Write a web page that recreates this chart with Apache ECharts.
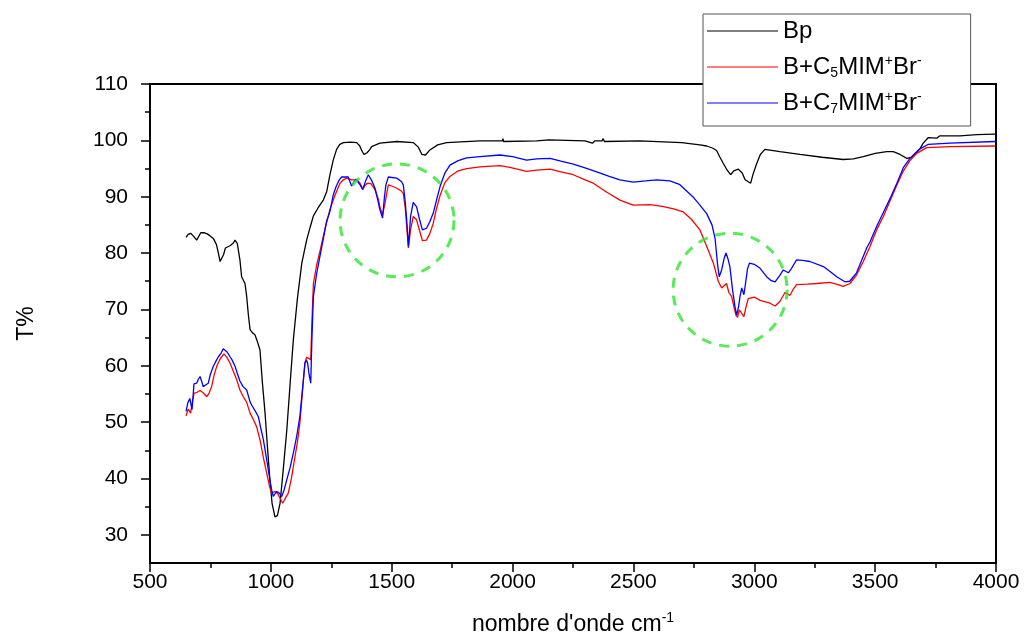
<!DOCTYPE html>
<html>
<head>
<meta charset="utf-8">
<script src="https://cdn.jsdelivr.net/npm/echarts/dist/echarts.min.js"></script>
<style>
  body { margin: 0; background: #fff; }
  #chart { width: 1027px; height: 635px; }
</style>
</head>
<body>
<div id="chart"></div>
<script>
// spectres IR : nombre d'onde (cm-1) / T%
var seriesNames = ['Bp', 'B+C5MIM+Br-', 'B+C7MIM+Br-'];
var yLabels = [30, 40, 50, 60, 70, 80, 90, 100, 110];
var yMinor = [35, 45, 55, 65, 75, 85, 95, 105];
// cercles verts (centre en nombre d'onde / T%)
var circleMarks = [[1522, 85.8], [2900, 73.5]];

var bp = [[649,82.8],[658,83.3],[668,83.5],[680,83.0],[693,82.3],[710,83.6],[725,83.6],[737,83.4],[750,83.0],[762,82.6],
  [775,81.5],[783,80],[790,78.5],[798,78.2],[805,79.8],[812,80.9],[831,81.3],[845,81.8],[852,82.3],[861,81.7],
  [872,78.8],[879,75.8],[893,74.6],[900,72.3],[907,69],[914,66.4],[925,65.8],[934,65.5],[945,64.2],[955,62.8],
  [965,57],[976,51.6],[986,45.5],[996,39.8],[1005,35.6],[1017,33.2],[1027,33.4],[1038,35.6],[1050,41],[1066,48.6],
  [1080,57],[1093,64.6],[1110,72],[1128,78.2],[1148,82.3],[1162,84.5],[1176,86.6],[1195,88],[1217,89.4],[1231,90.9],
  [1245,94],[1258,96.5],[1272,98.4],[1285,99.3],[1300,99.6],[1330,99.7],[1355,99.6],[1368,99],[1375,98.3],[1385,97.5],
  [1393,97.2],[1398,97.8],[1403,97.5],[1410,98.4],[1417,98.9],[1451,99.5],[1521,99.8],[1589,99.6],[1610,98.8],[1625,97.5],
  [1631,97.2],[1640,97.4],[1658,98.3],[1690,99.2],[1727,99.6],[1865,99.9],[1958,99.9],[1960,100.3],[1963,99.8],[2100,99.9],
  [2150,100.1],[2155,100.4],[2158,99.9],[2300,99.9],[2330,99.5],[2340,99.9],[2370,99.9],[2375,100.3],[2380,99.8],[2527,99.9],
  [2700,99.6],[2775,99.2],[2803,99.0],[2829,98.6],[2844,98.2],[2858,97],[2872,95.9],[2888,94.7],[2902,93.9],[2915,94.6],
  [2934,94.9],[2950,94.2],[2962,93],[2985,92.4],[2995,94],[3010,95.9],[3025,97.5],[3044,98.4],[3106,98],[3189,97.5],
  [3280,97],[3368,96.6],[3410,96.7],[3451,97.1],[3500,97.7],[3548,98],[3575,98],[3603,97.5],[3631,96.8],[3650,97],
  [3665,97.5],[3685,98.5],[3699,99.5],[3720,100.5],[3755,100.4],[3768,100.8],[3851,100.8],[3920,101],[3996,101.1]];

var c5 = [[649,51.1],[658,52.3],[668,51.6],[675,53.5],[682,55.1],[695,55.3],[707,55.6],[720,55.2],[735,54.5],[745,55.2],
  [755,56.3],[765,58.3],[776,59.9],[790,61.2],[806,62.1],[818,61.5],[831,60.5],[845,59],[859,57.5],[872,55.7],
  [886,54.5],[900,53.5],[914,51.6],[927,50.5],[941,49.2],[955,46.9],[970,43.5],[983,40.9],[995,38.5],[1003,37.4],
  [1010,37.2],[1017,37.7],[1027,37.4],[1038,36.5],[1049,35.6],[1060,36.5],[1072,37.4],[1085,40],[1100,43.9],[1110,46.5],
  [1120,49.8],[1130,55],[1141,60.5],[1148,61.5],[1155,61.8],[1165,61.1],[1170,68],[1176,74.6],[1190,78],[1203,80.3],
  [1225,84.5],[1245,87.8],[1265,90.2],[1286,92.4],[1300,93],[1314,93.3],[1334,93],[1357,93],[1370,92.3],[1380,91.3],
  [1390,92],[1399,92.4],[1415,92.3],[1431,91.2],[1445,89.5],[1451,88.2],[1462,86.8],[1472,88.8],[1486,92.1],[1500,91.9],
  [1521,91.5],[1540,91],[1548,90.6],[1556,88],[1562,84.7],[1569,80.9],[1578,84.1],[1589,86.5],[1603,85.9],[1615,84],
  [1627,82.2],[1644,82.3],[1658,83.5],[1672,85.3],[1686,88],[1700,90.2],[1720,92.5],[1741,93.6],[1775,94.6],[1810,95],
  [1865,95.3],[1948,95.5],[1989,95.2],[2058,94.5],[2100,94.7],[2155,94.9],[2200,94.4],[2251,93.9],[2300,93],[2334,92.4],
  [2390,90.8],[2444,89.4],[2499,88.5],[2568,88.6],[2620,88.3],[2670,87.8],[2706,87.3],[2740,86],[2775,84.1],[2800,81.5],
  [2831,78.2],[2851,75],[2865,73.8],[2875,74.2],[2885,74.6],[2895,73],[2906,72.3],[2924,69],[2931,68.6],[2938,69.9],
  [2945,69.5],[2957,68.7],[2966,70.5],[2975,71.9],[3000,72.2],[3024,71.6],[3065,71.1],[3086,70.6],[3106,71.4],[3127,73],
  [3134,73.2],[3148,72.5],[3160,73.5],[3175,74.4],[3220,74.5],[3258,74.6],[3313,74.8],[3340,74.5],[3368,74.1],[3396,74.6],
  [3423,76.1],[3451,78.5],[3479,81.2],[3507,84.2],[3534,86.5],[3562,89.3],[3589,92],[3617,94.6],[3644,96.4],[3672,97.7],
  [3713,98.7],[3810,98.9],[3996,99]];

var c7 = [[649,51.9],[657,53.5],[665,54.2],[670,53],[674,52.2],[682,56.8],[693,56.9],[700,57.6],[707,58.1],[714,57.2],
  [720,56.3],[730,56.6],[741,56.9],[750,58.5],[762,59.9],[775,61],[783,61.6],[795,62.3],[803,63],[810,63.1],
  [820,62.4],[831,61.6],[840,61],[852,59.9],[860,58.8],[872,57.3],[885,56.3],[900,55.7],[914,53.6],[921,53],
  [935,52],[948,51],[958,49],[969,46.9],[982,43.5],[996,39.8],[1003,38],[1010,36.8],[1017,37],[1024,37.7],
  [1030,37.5],[1035,37.4],[1045,36.8],[1055,38],[1066,39.8],[1080,42],[1093,44.5],[1107,47.5],[1120,51],[1130,55.5],
  [1141,60.5],[1147,61],[1152,60.5],[1158,58.5],[1165,56.9],[1170,65],[1176,72.3],[1190,76.5],[1203,79.4],[1217,82.5],
  [1230,85.5],[1245,87.5],[1258,90.3],[1270,91.8],[1283,93],[1293,93.5],[1320,93.5],[1327,92.7],[1334,91.9],[1343,92.6],
  [1352,93.1],[1366,92.3],[1380,91.3],[1392,92.8],[1403,93.9],[1418,92.8],[1431,91.5],[1442,89.5],[1451,87.7],[1462,86.2],
  [1470,90],[1476,92.1],[1486,93.5],[1521,93.3],[1540,92.7],[1548,92.1],[1556,89],[1562,85.9],[1569,81.2],[1574,84],
  [1578,86.5],[1589,89],[1603,88.2],[1615,86],[1627,84.1],[1644,84.4],[1658,85.6],[1672,87.1],[1686,89.5],[1700,91.8],
  [1720,94.2],[1741,95.6],[1775,96.4],[1810,96.9],[1865,97.1],[1948,97.4],[2000,97.1],[2058,96.5],[2100,96.7],[2155,96.8],
  [2200,96.3],[2251,95.8],[2300,95.1],[2348,94.4],[2400,93.6],[2444,93],[2499,92.6],[2550,92.8],[2596,93],[2651,92.8],
  [2690,92.2],[2720,91],[2750,89.8],[2775,88.5],[2803,87],[2825,85],[2838,82.5],[2848,78],[2855,75.8],[2860,76],
  [2865,77],[2875,79],[2883,80],[2891,79],[2899,77.6],[2910,73.5],[2920,70.5],[2927,69],[2935,70.5],[2941,72.3],
  [2948,73.8],[2952,73.6],[2957,72.6],[2965,75],[2972,77.2],[2980,78.2],[3000,78],[3024,77.3],[3051,75.8],[3070,75.1],
  [3086,74.9],[3105,76],[3120,77],[3127,77.3],[3141,76.5],[3150,77],[3175,78.8],[3200,78.7],[3230,78.5],[3286,77.6],
  [3320,76.5],[3341,75.8],[3375,74.9],[3395,75],[3410,75.8],[3423,76.5],[3440,78.3],[3465,80.9],[3479,82],[3507,84.8],
  [3534,87.2],[3562,89.7],[3589,92.3],[3617,95.2],[3644,96.8],[3679,98.3],[3720,99.3],[3810,99.5],[3996,99.8]];

var font = 'Liberation Sans, Arial, sans-serif';
var myChart = echarts.init(document.getElementById('chart'));
myChart.setOption({
  animation: false,
  backgroundColor: '#fff',
  grid: {
    left: 150, right: 31, top: 84, bottom: 72,
    outerBoundsMode: 'none',
    show: true, borderColor: '#000', borderWidth: 2
  },
  legend: {
    data: seriesNames,
    orient: 'vertical',
    left: 703, top: 14,
    padding: [4, 49, 10, 4],
    itemGap: 10,
    icon: 'rect',
    itemWidth: 71, itemHeight: 1.2,
    backgroundColor: '#fff',
    borderColor: '#555', borderWidth: 1,
    formatter: function (name) {
      if (name === 'Bp') return 'Bp';
      return 'B+C{sub|' + name.charAt(3) + '}MIM{sup|+}Br{sup|-}';
    },
    textStyle: {
      fontFamily: font, fontSize: 24, color: '#000', lineHeight: 26,
      rich: {
        sub: { fontFamily: font, fontSize: 14, lineHeight: 12, verticalAlign: 'bottom' },
        sup: { fontFamily: font, fontSize: 14, lineHeight: 13, verticalAlign: 'top' }
      }
    }
  },
  xAxis: {
    type: 'value',
    min: 500, max: 4000, interval: 500,
    name: 'nombre d\'onde cm{sup|-1}',
    nameLocation: 'middle', nameGap: 48,
    nameTextStyle: {
      fontFamily: font, fontSize: 23, color: '#000', lineHeight: 28,
      rich: { sup: { fontFamily: font, fontSize: 14, lineHeight: 14, verticalAlign: 'top' } }
    },
    axisLine: { lineStyle: { color: '#000', width: 2 } },
    axisTick: { length: 9, lineStyle: { color: '#000', width: 1.5 } },
    minorTick: { show: true, splitNumber: 2, length: 5, lineStyle: { color: '#000', width: 1.5 } },
    axisLabel: {
      fontFamily: font, fontSize: 21, color: '#000', margin: 9,
      formatter: function (v) { return String(v); }
    },
    splitLine: { show: false }
  },
  yAxis: [{
    type: 'value',
    min: 25, max: 110,
    name: 'T%',
    nameLocation: 'middle', nameGap: 112, nameRotate: 90,
    nameTextStyle: { fontFamily: font, fontSize: 23, color: '#000' },
    axisLine: { lineStyle: { color: '#000', width: 2 } },
    axisTick: { customValues: yLabels, length: 9, lineStyle: { color: '#000', width: 1.5 } },
    axisLabel: { customValues: yLabels, fontFamily: font, fontSize: 21, color: '#000', margin: 22 },
    splitLine: { show: false }
  }, {
    type: 'value',
    position: 'left',
    min: 25, max: 110,
    axisLine: { show: false },
    axisTick: { customValues: yMinor, length: 5, lineStyle: { color: '#000', width: 1.5 } },
    axisLabel: { show: false },
    splitLine: { show: false }
  }],
  series: [{
    name: seriesNames[0], type: 'line', data: bp, symbol: 'none',
    lineStyle: { color: '#000', width: 1.3 }, itemStyle: { color: '#000' }
  }, {
    name: seriesNames[1], type: 'line', data: c5, symbol: 'none',
    lineStyle: { color: '#ff0000', width: 1.3 }, itemStyle: { color: '#ff0000' }
  }, {
    name: seriesNames[2], type: 'line', data: c7, symbol: 'none',
    lineStyle: { color: '#0000ff', width: 1.3 }, itemStyle: { color: '#0000ff' }
  }, {
    name: 'cercles', type: 'scatter', data: circleMarks, silent: true, z: 3,
    symbol: 'circle', symbolSize: [114, 113],
    itemStyle: { color: 'rgba(0,0,0,0)', borderColor: '#2ee62e', borderWidth: 3, borderType: [10, 8] }
  }]
});
</script>
</body>
</html>
